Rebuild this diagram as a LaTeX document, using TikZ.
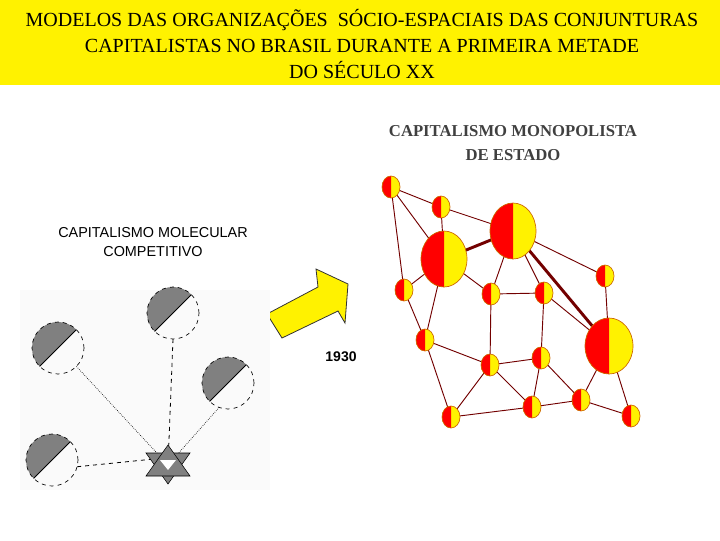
\documentclass[tikz,border=0pt]{standalone}
\usepackage{fontspec}
\setmainfont{Liberation Serif}
\newfontfamily\arialf{Liberation Sans}
\usetikzlibrary{calc}
\begin{document}
\begin{tikzpicture}[x=0.75pt,y=-0.75pt,
  edge/.style={draw=red!45!black,line width=0.7pt},
  thick edge/.style={draw=red!45!black,line width=2.2pt},
  lcirc/.style={draw,dashed,line width=0.5pt}]
\useasboundingbox (0,0) rectangle (720,540);
\fill[white] (0,0) rectangle (720,540);
\fill[yellow] (0,0) rectangle (720,85);
\node[font=\fontsize{15}{19.5}\selectfont,align=center] (title) at (362,44)
 {MODELOS DAS ORGANIZAÇÕES \ SÓCIO-ESPACIAIS DAS CONJUNTURAS\\CAPITALISTAS NO BRASIL DURANTE A PRIMEIRA METADE\\DO SÉCULO XX};
\node[font=\fontsize{12.5}{18}\selectfont\bfseries,text=black!75,align=center] (mono) at (513,143)
 {CAPITALISMO MONOPOLISTA\\DE ESTADO};
\node[font=\arialf\fontsize{10.8}{14}\selectfont,align=center] (mol) at (153,242)
 {CAPITALISMO MOLECULAR\\COMPETITIVO};
\node[font=\arialf\fontsize{10.5}{13}\selectfont\bfseries] (yr) at (341,357) {1930};
% arrow
\draw[fill=yellow,draw=black!80,line width=0.6pt]
 (267,314) -- (318,287) -- (316,269) -- (348,284) -- (345,323) -- (338,311) -- (282,338) -- cycle;
% left picture
\fill[black!2] (20,290) rectangle (270,490);
\coordinate (star) at (168,465);
\foreach \n/\x/\y in {c1/58/348,c2/173/313,c3/228/383,c4/52/460}{
  \coordinate (\n) at (\x,\y);
  \fill[gray] ($(\n)+(45:19.5pt)$) arc[start angle=45,end angle=225,radius=19.5pt] -- cycle;
  \draw[lcirc] (\n) circle[radius=19.5pt];
  \draw[line width=0.6pt] ($(\n)+(45:19.5pt)$) -- ($(\n)+(225:19.5pt)$);
}
\draw[densely dotted,line width=0.5pt] ($(c1)+(-45:19.5pt)$) -- (star);
\draw[dashed,line width=0.6pt] ($(c2)+(0,-19.5pt)$) -- (star);
\draw[densely dotted,line width=0.5pt] ($(c3)+(-110:19.5pt)$) -- (star);
\draw[dashed,line width=0.6pt] ($(c4)+(-15:19.5pt)$) -- ($(star)+(-14,-6)$);
\fill[gray,draw=black,line width=0.4pt] (146,453) -- (190,453) -- (168,484) -- cycle;
\fill[gray,draw=black,line width=0.4pt] (146,476) -- (190,476) -- (168,445) -- cycle;
\fill[white] (168,470) -- (160,460) -- (176,460) -- cycle;
% network
\foreach \n/\x/\y/\rx/\ry in {A/391/187/9/11,B/441/207/9/11,C/513/231/23/28,D/444/259/23/28,
 E/605/276/9/11,F/404/290/9/11,G/491/294/9/11,H/544/293/9/11,I/609/346/24/28,J/425/340/9/11,
 K/490/365/9/11,L/541/358/9/11,M/451/417/9/11,N/532/407/9/11,O/581/400/9/11,P/631/416/9/11}
 {\coordinate (\n) at (\x,\y); \expandafter\xdef\csname rx\n\endcsname{\rx}\expandafter\xdef\csname ry\n\endcsname{\ry}}
\foreach \a/\b in {A/B,A/D,A/F,B/C,B/D,C/E,C/G,C/H,E/I,D/F,D/G,D/J,F/J,G/H,G/K,H/L,H/I,J/K,J/M,K/L,K/M,K/N,L/N,L/O,M/N,N/O,O/I,O/P,I/P}
 \draw[edge] (\a) -- (\b);
\draw[thick edge] (D) -- (C);
\draw[thick edge] (C) -- (I);
\foreach \n in {A,B,C,D,E,F,G,H,I,J,K,L,M,N,O,P}{
 \pgfmathsetmacro\rx{\csname rx\n\endcsname*0.75}
 \pgfmathsetmacro\ry{\csname ry\n\endcsname*0.75}
 \fill[yellow] (\n) ellipse[x radius=\rx pt,y radius=\ry pt];
 \fill[red] ($(\n)+(0,-\ry pt)$) arc[start angle=-90,end angle=-270,x radius=\rx pt,y radius=\ry pt] -- cycle;
 \draw[orange!80!black,line width=0.5pt] (\n) ellipse[x radius=\rx pt,y radius=\ry pt];
}
\end{tikzpicture}
\end{document}
